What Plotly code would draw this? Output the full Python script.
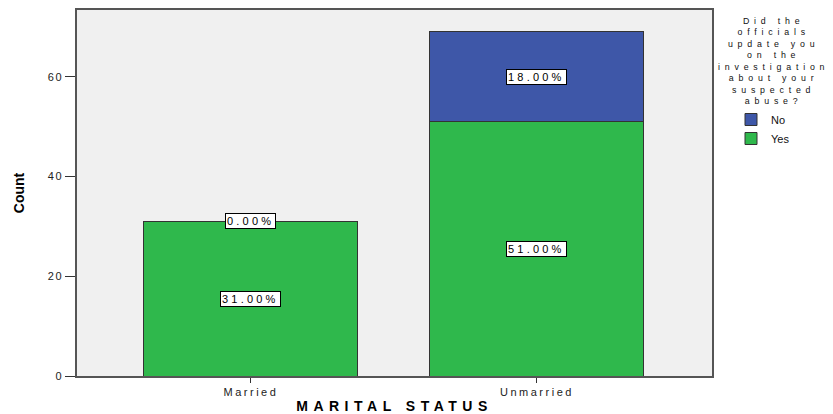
import plotly.graph_objects as go

categories = ["Married", "Unmarried"]
yes_counts = [31, 51]
no_counts = [0, 18]
series_names = ["Yes", "No"]
legend_title_lines = ["Did the", "officials", "update you", "on the",
                      "investigation", "about your", "suspected", "abuse?"]
y_ticks = [0, 20, 40, 60]

GREEN = "#2fb84c"
BLUE = "#3e57a8"
OUTLINE = "#333333"
FONT = "Liberation Sans, Arial, sans-serif"

# the page body adds an 8px margin; lay the figure out in window pixels minus it
OFF = 8
WIN_W, WIN_H = 833, 414
PLOT_TOP, PLOT_BOTTOM = 10, 376      # window pixels
PLOT_LEFT, PLOT_RIGHT = 77, 712


def spaced(text, px):
    return f'<span style="letter-spacing:{px}px">{text}</span>'


def paper_y(py):
    return 1 - (py - PLOT_TOP) / (PLOT_BOTTOM - PLOT_TOP)


def paper_x(px):
    return (px - PLOT_LEFT) / (PLOT_RIGHT - PLOT_LEFT)


total = sum(yes_counts) + sum(no_counts)

fig = go.Figure()
fig.add_trace(go.Bar(
    x=categories, y=yes_counts, name=series_names[0],
    marker=dict(color=GREEN, line=dict(color=OUTLINE, width=1)),
    hoverinfo="skip",
))
fig.add_trace(go.Bar(
    x=categories, y=no_counts, name=series_names[1],
    marker=dict(color=BLUE, line=dict(color=OUTLINE, width=1)),
    hoverinfo="skip",
))

# segment labels (percent of total), centred in each stacked segment
annotations = []
for i, cat in enumerate(categories):
    base = 0
    for vals in (yes_counts, no_counts):
        v = vals[i]
        annotations.append(dict(
            x=i, y=base + v / 2, xref="x", yref="y",
            text=spaced(f"{v / total * 100:.2f}%", 3.2),
            showarrow=False,
            font=dict(family=FONT, size=11, color="#000000"),
            bgcolor="#ffffff", bordercolor="#000000", borderwidth=1, borderpad=1,
        ))
        base += v

# legend title as one centred multi-line text
annotations.append(dict(
    x=paper_x(773), y=paper_y(14), xref="paper", yref="paper",
    xanchor="center", yanchor="top", align="center",
    text="<br>".join(spaced(l, 4.8) for l in legend_title_lines),
    showarrow=False,
    font=dict(family=FONT, size=8.8, color="#111111"),
))

fig.update_layout(
    width=WIN_W - OFF, height=WIN_H - OFF,
    margin=dict(l=PLOT_LEFT - OFF, r=WIN_W - PLOT_RIGHT, t=PLOT_TOP - OFF,
                b=WIN_H - PLOT_BOTTOM, autoexpand=False),
    paper_bgcolor="#ffffff",
    plot_bgcolor="#f0f0f0",
    barmode="stack",
    bargap=0.252,
    font=dict(family=FONT, size=11, color="#222222"),
    annotations=annotations,
    showlegend=True,
    legend=dict(
        traceorder="reversed",
        x=paper_x(731), xanchor="left", y=paper_y(105), yanchor="top",
        font=dict(family=FONT, size=11, color="#111111"),
        bgcolor="rgba(0,0,0,0)",
        itemwidth=30,
        tracegroupgap=0,
    ),
    xaxis=dict(
        type="category",
        range=[-0.608, 1.612],
        tickvals=categories,
        ticktext=[spaced(c, 2.5) for c in categories],
        ticks="outside", ticklen=5, tickcolor=OUTLINE,
        showline=True, linecolor="#555555", linewidth=1.5, mirror=True,
        showgrid=False, zeroline=False, automargin=False,
        tickfont=dict(family=FONT, size=11, color="#222222"),
        title=dict(text=spaced("<b>MARITAL STATUS</b>", 5.5), standoff=8,
                   font=dict(family=FONT, size=14, color="#000000")),
    ),
    yaxis=dict(
        range=[0, 73.4],
        tickvals=y_ticks,
        ticktext=[spaced(str(t), 1.5) for t in y_ticks],
        ticks="outside", ticklen=10, tickcolor=OUTLINE,
        showline=True, linecolor="#555555", linewidth=1.5, mirror=True,
        showgrid=False, zeroline=False, automargin=False,
        tickfont=dict(family=FONT, size=11, color="#222222"),
        title=dict(text="<b>Count</b>", standoff=20,
                   font=dict(family="Liberation Sans Narrow, " + FONT, size=14, color="#000000")),
    ),
)

fig.write_html("out.html")
